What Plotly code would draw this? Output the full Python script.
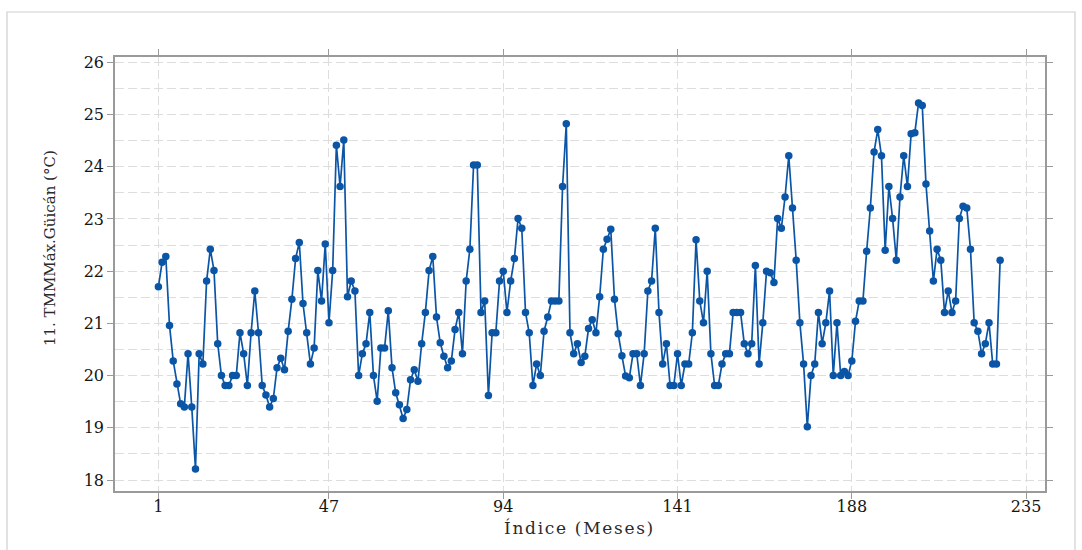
import plotly.graph_objects as go

# Monthly mean of maximum temperature, Güicán station (°C)
temps_1_40 = [
    21.70, 22.17, 22.28, 20.96, 20.28, 19.84, 19.46, 19.40, 20.42, 19.40,
    18.21, 20.42, 20.22, 21.81, 22.42, 22.01, 20.61, 20.00, 19.81, 19.81,
    20.00, 20.00, 20.82, 20.42, 19.81, 20.82, 21.62, 20.82, 19.81, 19.63,
    19.40, 19.56, 20.15, 20.33, 20.11, 20.85, 21.46, 22.24, 22.55, 21.38,
]
temps_41_81 = [
    20.82, 20.22, 20.53, 22.01, 21.43, 22.52, 21.01, 22.01, 24.41, 23.62,
    24.51, 21.51, 21.81, 21.62, 20.00, 20.42, 20.61, 21.21, 20.00, 19.51,
    20.53, 20.53, 21.24, 20.15, 19.67, 19.44, 19.18, 19.35, 19.92, 20.11,
    19.89, 20.61, 21.21, 22.01, 22.28, 21.12, 20.63, 20.37, 20.15, 20.28,
    20.88,
]
temps_82_123 = [
    21.21, 20.42, 21.81, 22.42, 24.03, 24.03, 21.21, 21.43, 19.62, 20.82,
    20.82, 21.81, 22.00, 21.21, 21.81, 22.24, 23.01, 22.82, 21.21, 20.82,
    19.81, 20.22, 20.00, 20.85, 21.12, 21.43, 21.43, 21.43, 23.62, 24.82,
    20.82, 20.42, 20.61, 20.25, 20.37, 20.90, 21.07, 20.82, 21.51, 22.42,
    22.61, 22.80,
]
temps_124_165 = [
    21.46, 20.80, 20.38, 19.99, 19.96, 20.42, 20.42, 19.81, 20.42, 21.62,
    21.81, 22.82, 21.21, 20.22, 20.61, 19.81, 19.81, 20.42, 19.81, 20.22,
    20.22, 20.82, 22.60, 21.43, 21.01, 22.00, 20.42, 19.81, 19.81, 20.22,
    20.42, 20.42, 21.21, 21.21, 21.21, 20.61, 20.42, 20.61, 22.11, 20.22,
    21.01, 22.00,
]
temps_166_207 = [
    21.97, 21.78, 23.01, 22.82, 23.42, 24.21, 23.21, 22.21, 21.01, 20.22,
    19.02, 20.00, 20.22, 21.21, 20.61, 21.01, 21.62, 20.00, 21.01, 20.00,
    20.08, 20.00, 20.28, 21.04, 21.43, 21.43, 22.38, 23.21, 24.28, 24.71,
    24.21, 22.40, 23.62, 23.01, 22.21, 23.42, 24.21, 23.62, 24.63, 24.65,
    25.22, 25.17,
]
temps_208_228 = [
    23.67, 22.77, 21.81, 22.42, 22.21, 21.21, 21.62, 21.21, 21.43, 23.01,
    23.24, 23.21, 22.42, 21.01, 20.85, 20.42, 20.61, 21.01, 20.22, 20.22,
    22.21,
]

temps = (temps_1_40 + temps_41_81 + temps_82_123
         + temps_124_165 + temps_166_207 + temps_208_228)
months = list(range(1, len(temps) + 1))

x_ticks = [1, 47, 94, 141, 188, 235]
y_ticks = [18, 19, 20, 21, 22, 23, 24, 25, 26]

x_title = "Índice (Meses)"
y_title = "11. TMMMáx.Güicán (°C)"

line_blue = "#0b55a6"
axis_gray = "#9a9a9a"
grid_gray = "#dddddd"
text_color = "#161616"
serif = "DejaVu Serif, Liberation Serif, serif"

# plot-area geometry in pixels, used to place titles and the outer frame
PLOT_L, PLOT_R, PLOT_T, PLOT_B = 115, 1045, 57, 491
PW, PH = PLOT_R - PLOT_L, PLOT_B - PLOT_T


def px_x(px):
    return (px - PLOT_L) / PW


def px_y(py):
    return (PLOT_B - py) / PH


def spaced(text):
    # loosen the tracking of a title with hair spaces between glyphs
    return "\u200a".join(text)


fig = go.Figure(
    go.Scatter(
        x=months,
        y=temps,
        mode="lines+markers",
        line=dict(color=line_blue, width=1.7),
        marker=dict(color=line_blue, size=7.5),
        hoverinfo="x+y",
    )
)

common_axis = dict(
    showline=True,
    linecolor=axis_gray,
    linewidth=1.5,
    mirror="allticks",
    ticks="outside",
    ticklen=6,
    tickcolor=axis_gray,
    tickwidth=1,
    showgrid=True,
    gridcolor=grid_gray,
    gridwidth=1,
    griddash="9px,4px",
    zeroline=False,
    tickfont=dict(family=serif, size=16, color=text_color),
)

fig.update_xaxes(
    **common_axis,
    range=[-10.7, 240.1],
    tickvals=x_ticks,
    ticktext=[str(v) for v in x_ticks],
    ticklabelstandoff=-6,
)
fig.update_yaxes(
    **common_axis,
    range=[17.79, 26.10],
    tickvals=y_ticks,
    ticktext=[str(v) for v in y_ticks],
    minor=dict(dtick=0.5, tick0=18, showgrid=True, gridcolor=grid_gray,
               griddash="9px,4px", ticks=""),
)

fig.add_annotation(
    text=spaced(x_title), xref="paper", yref="paper",
    x=px_x(578), y=px_y(528), xanchor="center", yanchor="middle",
    showarrow=False, font=dict(family=serif, size=17, color="#2a2a2a"),
)
fig.add_annotation(
    text=y_title, xref="paper", yref="paper", textangle=-90,
    x=px_x(50), y=px_y(248), xanchor="center", yanchor="middle",
    showarrow=False, font=dict(family=serif, size=15, color="#2a2a2a"),
)

# light outer frame around the whole chart
fig.add_shape(
    type="rect", xref="paper", yref="paper",
    x0=px_x(7), x1=px_x(1075), y0=px_y(560), y1=px_y(12),
    line=dict(color="#cfcfcf", width=1.2),
    fillcolor="rgba(0,0,0,0)",
    layer="below",
)

fig.update_layout(
    width=1082,
    height=550,
    margin=dict(l=PLOT_L, r=1082 - PLOT_R, t=PLOT_T, b=550 - PLOT_B),
    paper_bgcolor="white",
    plot_bgcolor="white",
    showlegend=False,
)

fig.write_html("out.html")
